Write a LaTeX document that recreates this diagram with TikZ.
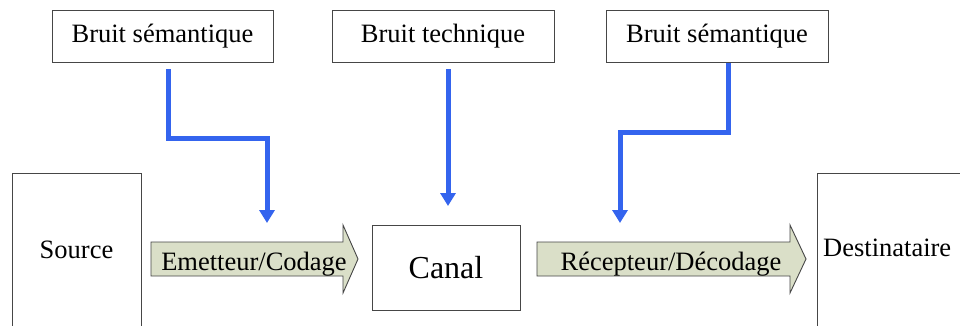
\documentclass[tikz,border=0pt]{standalone}
\usepackage{fontspec}
\setmainfont{Liberation Serif}
\usetikzlibrary{arrows.meta}
\definecolor{noiseblue}{RGB}{52,100,238}
\definecolor{sage}{RGB}{218,223,200}
\definecolor{edgegrey}{RGB}{70,70,70}
\begin{document}
\begin{tikzpicture}[x=1pt,y=-1pt,
  box/.style={draw=edgegrey,line width=0.9pt,fill=white},
  lbl/.style={inner sep=0pt,font=\fontsize{26.5}{30}\selectfont},
  noise/.style={draw=noiseblue,line width=5pt,-{Triangle[width=15pt,length=13pt]}},
  blockarrow/.style={draw=edgegrey,line width=0.9pt,fill=sage,line join=miter}]
\useasboundingbox (0,0) rectangle (960,325);
\clip (0,0) rectangle (960,325);
\fill[white] (0,0) rectangle (960,325);

% noise boxes
\node[box,minimum width=221pt,minimum height=52pt,lbl,inner sep=0pt] (bs1) at (162.5,36) {Bruit sémantique};
\node[box,minimum width=222pt,minimum height=52pt,lbl,inner sep=0pt] (bt) at (443,36) {Bruit technique};
\node[box,minimum width=222pt,minimum height=52pt,lbl,inner sep=0pt] (bs2) at (717,36) {Bruit sémantique};

% source / canal / destinataire
\draw[box] (12,173) rectangle (141,340);
\node[lbl] (src) at (76.5,250) {Source};
\node[box,minimum width=148pt,minimum height=85pt,inner sep=0pt,font=\fontsize{32}{36}\selectfont] (canal) at (446,267.5) {Canal};
\draw[box] (817,173) rectangle (975,340);
\node[lbl,anchor=west] (dst) at (823,248) {Destinataire};

% block arrows
\draw[blockarrow] (151,242) -- (343,242) -- (343,225) -- (358,259) -- (343,293) -- (343,276) -- (151,276) -- cycle;
\node[lbl,anchor=base] (emet) at (254,270) {Emetteur/Codage};
\draw[blockarrow] (537,242) -- (790,242) -- (790,225) -- (806,259) -- (790,293) -- (790,276) -- (537,276) -- cycle;
\node[lbl,anchor=base] (recep) at (671,270) {Récepteur/Décodage};

% noise connectors
\coordinate (n1s) at (168,69);
\coordinate (n1e) at (267,223);
\coordinate (n2s) at (448,69);
\coordinate (n2e) at (448,206);
\coordinate (n3s) at (728,63);
\coordinate (n3e) at (620,223);
\draw[noise] (n1s) -- (168,138) -| (n1e);
\draw[noise] (n2s) -- (n2e);
\draw[noise] (n3s) -- (728,132) -| (n3e);
\end{tikzpicture}
\end{document}
